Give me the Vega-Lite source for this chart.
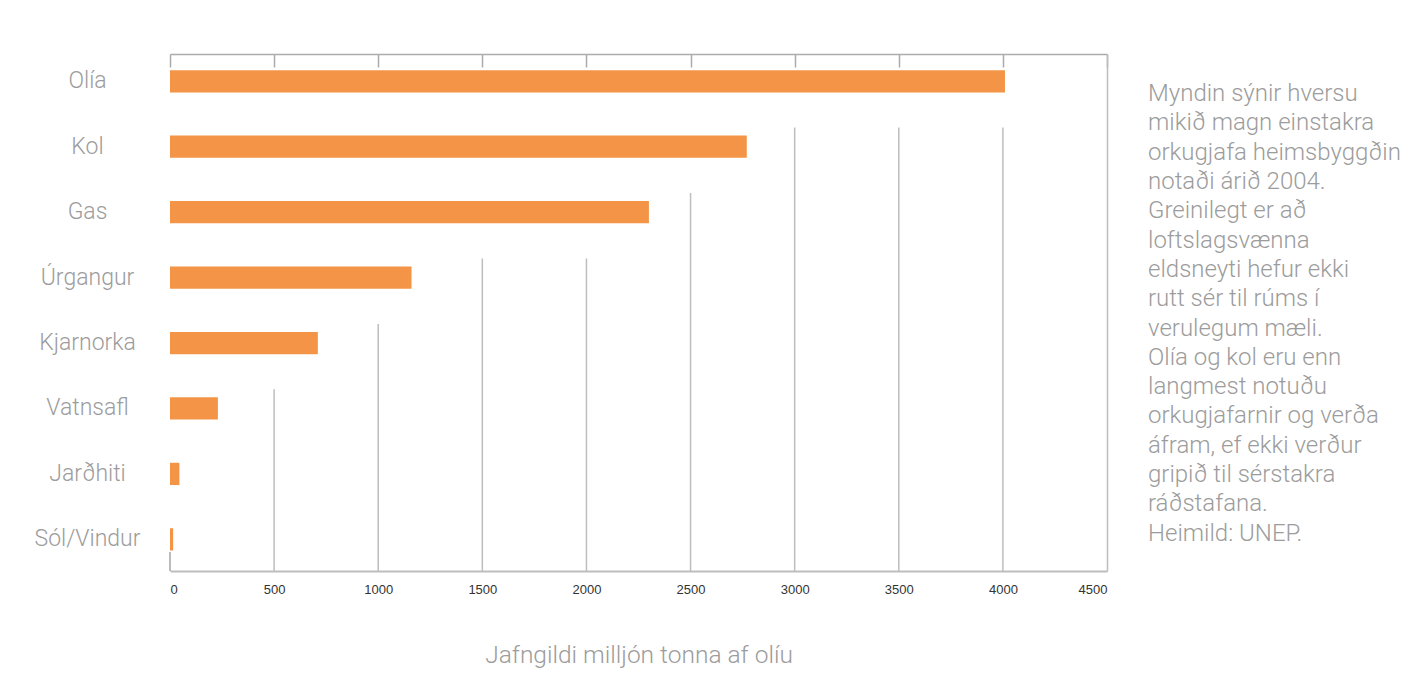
{
  "$schema": "https://vega.github.io/schema/vega-lite/v6.json",
  "width": 937,
  "height": 517,
  "autosize": {"type": "none"},
  "padding": {"left": 170, "top": 54, "right": 304, "bottom": 115},
  "background": "white",
  "config": {"view": {"stroke": null}},
  "datasets": {
    "bars": [
      {"kilda": "Olía", "gildi": 4010},
      {"kilda": "Kol", "gildi": 2770},
      {"kilda": "Gas", "gildi": 2300},
      {"kilda": "Úrgangur", "gildi": 1160},
      {"kilda": "Kjarnorka", "gildi": 710},
      {"kilda": "Vatnsafl", "gildi": 230},
      {"kilda": "Jarðhiti", "gildi": 45},
      {"kilda": "Sól/Vindur", "gildi": 15}
    ],
    "grid": [
      {"tick": 500, "fra": "Vatnsafl"},
      {"tick": 1000, "fra": "Kjarnorka"},
      {"tick": 1500, "fra": "Úrgangur"},
      {"tick": 2000, "fra": "Úrgangur"},
      {"tick": 2500, "fra": "Gas"},
      {"tick": 3000, "fra": "Kol"},
      {"tick": 3500, "fra": "Kol"},
      {"tick": 4000, "fra": "Kol"}
    ]
  },
  "resolve": {"axis": {"x": "independent", "y": "independent"}},
  "layer": [
    {
      "data": {"name": "grid"},
      "mark": {"type": "rule", "color": "#bdbdbd", "strokeWidth": 1.5, "yOffset": -8},
      "encoding": {
        "x": {
          "field": "tick",
          "type": "quantitative",
          "scale": {"domain": [0, 4500], "nice": false},
          "axis": {
            "orient": "top",
            "values": [0, 500, 1000, 1500, 2000, 2500, 3000, 3500, 4000, 4500],
            "labels": false,
            "grid": false,
            "domain": true,
            "domainColor": "#ababab",
            "domainWidth": 1.5,
            "ticks": true,
            "tickSize": -13,
            "tickColor": "#ababab",
            "tickWidth": 1.5,
            "title": null
          }
        },
        "y": {
          "field": "fra",
          "type": "nominal",
          "bandPosition": 0,
          "scale": {
            "domain": ["Olía", "Kol", "Gas", "Úrgangur", "Kjarnorka", "Vatnsafl", "Jarðhiti", "Sól/Vindur"],
            "paddingInner": 0.66,
            "paddingOuter": 0.28,
            "align": 0.44
          },
          "axis": {
            "orient": "right",
            "labels": false,
            "ticks": false,
            "grid": false,
            "domain": true,
            "domainColor": "#bdbdbd",
            "domainWidth": 1.5,
            "title": null
          }
        },
        "y2": {"value": "height"}
      }
    },
    {
      "data": {"name": "bars"},
      "mark": {"type": "rule", "color": "#bdbdbd", "strokeWidth": 1.5, "yOffset": 2},
      "encoding": {
        "x": {"datum": 0, "type": "quantitative", "axis": null},
        "y": {"datum": "Sól/Vindur", "type": "nominal", "bandPosition": 1, "axis": null},
        "y2": {"value": "height"}
      }
    },
    {
      "data": {"name": "bars"},
      "mark": {"type": "bar", "color": "#f39446"},
      "encoding": {
        "x": {
          "field": "gildi",
          "type": "quantitative",
          "axis": {
            "orient": "bottom",
            "values": [0, 500, 1000, 1500, 2000, 2500, 3000, 3500, 4000, 4500],
            "format": "d",
            "grid": false,
            "ticks": false,
            "tickSize": 0,
            "domain": true,
            "domainColor": "#bdbdbd",
            "domainWidth": 2,
            "labelFont": "Liberation Sans",
            "labelFontSize": 13,
            "labelColor": "#333333",
            "labelPadding": 12,
            "title": "Jafngildi milljón tonna af olíu",
            "titleFont": "Roboto",
            "titleFontSize": 24.5,
            "titleFontWeight": 300,
            "titleColor": "#9c9c9c",
            "titlePadding": 47
          }
        },
        "y": {
          "field": "kilda",
          "type": "nominal",
          "axis": {
            "orient": "left",
            "domain": false,
            "ticks": false,
            "tickSize": 0,
            "grid": false,
            "labelAlign": "center",
            "labelPadding": 83,
            "labelFont": "Roboto",
            "labelFontSize": 23,
            "labelFontWeight": 300,
            "labelColor": "#9c9c9c",
            "title": null
          }
        }
      }
    },
    {
      "data": {"values": [{}]},
      "mark": {
        "type": "text",
        "text": [
          "Myndin sýnir hversu",
          "mikið magn einstakra",
          "orkugjafa heimsbyggðin",
          "notaði árið 2004.",
          "Greinilegt er að",
          "loftslagsvænna",
          "eldsneyti hefur ekki",
          "rutt sér til rúms í",
          "verulegum mæli.",
          "Olía og kol eru enn",
          "langmest notuðu",
          "orkugjafarnir og verða",
          "áfram, ef ekki verður",
          "gripið til sérstakra",
          "ráðstafana.",
          "Heimild: UNEP."
        ],
        "align": "left",
        "baseline": "alphabetic",
        "dx": 41,
        "dy": 31,
        "font": "Roboto",
        "fontSize": 24,
        "fontWeight": 300,
        "lineHeight": 29.3,
        "color": "#9c9c9c"
      },
      "encoding": {
        "x": {"datum": 4500, "type": "quantitative", "axis": null},
        "y": {"datum": "Olía", "type": "nominal", "bandPosition": 0, "axis": null}
      }
    }
  ]
}
